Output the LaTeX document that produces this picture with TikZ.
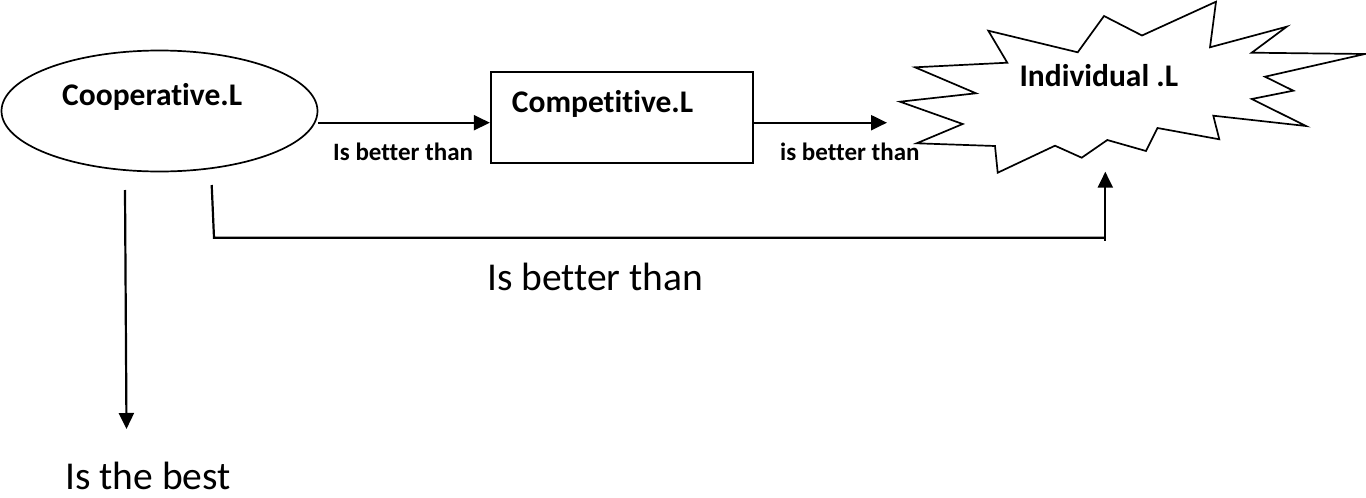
\documentclass[tikz,border=0pt]{standalone}
\usepackage{fontspec}
\setmainfont[Ligatures={NoCommon}]{Carlito}
\usetikzlibrary{arrows.meta,shapes.geometric}

\tikzset{
  shapeline/.style={draw=black, line width=1.7pt},
  conn/.style={draw=black, line width=2.2pt},
  arr/.style={conn, -{Triangle[length=16pt,width=15pt]}},
  boldtext/.style={anchor=base west, inner sep=0pt, font=\bfseries\fontsize{31.5}{36}\selectfont},
  smalllabel/.style={anchor=base west, inner sep=0pt, font=\bfseries\fontsize{25}{30}\selectfont},
  biglabel/.style={anchor=base west, inner sep=0pt, font=\fontsize{39.5}{46}\selectfont},
}

\begin{document}
\begin{tikzpicture}[x=1pt, y=-1pt]
  \useasboundingbox (0,0) rectangle (1366,498);

  % Cooperative learning: ellipse
  \node[shapeline, ellipse, minimum width=316pt, minimum height=121pt, inner sep=0pt] (coop) at (159.5,111) {};
  \node[boldtext] (cooptext) at (62,105) {Cooperative.L};

  % Competitive learning: box
  \node[shapeline, rectangle, minimum width=262pt, minimum height=91pt, inner sep=0pt] (comp) at (621.7,117.2) {};
  \node[boldtext] (comptext) at (511.7,112) {Competitive.L};

  % Individual learning: starburst outline
  \draw[shapeline, line join=miter] (988.3,30.7) -- (1077.7,52.3) -- (1104,16) -- (1142,35.5)
    -- (1216,1.7) -- (1210,47.3) -- (1286.7,26.7) -- (1251.7,52.7) -- (1365,54)
    -- (1265,76.7) -- (1293.3,90.7) -- (1251.7,99) -- (1306,126) -- (1213.3,115.7)
    -- (1219.3,139.3) -- (1157.5,128) -- (1146,151) -- (1107.3,140) -- (1081.7,157.7)
    -- (1055,145.7) -- (997.7,172.7) -- (995,146) -- (916.7,143.3) -- (962.7,124)
    -- (900,101.7) -- (976,93.3) -- (915,67.3) -- (1007.3,62.7) -- cycle;
  \node[boldtext] (indtext) at (1019.3,86.7) {Individual .L};

  % connector end points
  \coordinate (a1) at (318,122.7);
  \coordinate (indleft) at (887,122.7);
  \coordinate (bendstart) at (211.7,185);
  \coordinate (bendlow) at (214,237.7);
  \coordinate (bendright) at (1105.3,237.7);
  \coordinate (indbottom) at (1105.3,171.7);
  \coordinate (downstart) at (125,190);
  \coordinate (downend) at (126.5,429);

  % connectors
  \draw[arr] (a1) -- (comp.west |- a1);
  \draw[arr] (comp.east |- indleft) -- (indleft);
  \draw[conn] (bendstart) -- (bendlow) -- (bendright);
  \draw[arr] (bendright) ++(0,3) -- (indbottom);
  \draw[arr] (downstart) -- (downend);

  % labels
  \node[smalllabel] (lab1) at (333,160) {Is better than};
  \node[smalllabel] (lab2) at (780,160) {is better than};
  \node[biglabel] (lab3) at (487,290) {Is better than};
  \node[biglabel] (lab4) at (65,489) {Is the best};
\end{tikzpicture}
\end{document}
